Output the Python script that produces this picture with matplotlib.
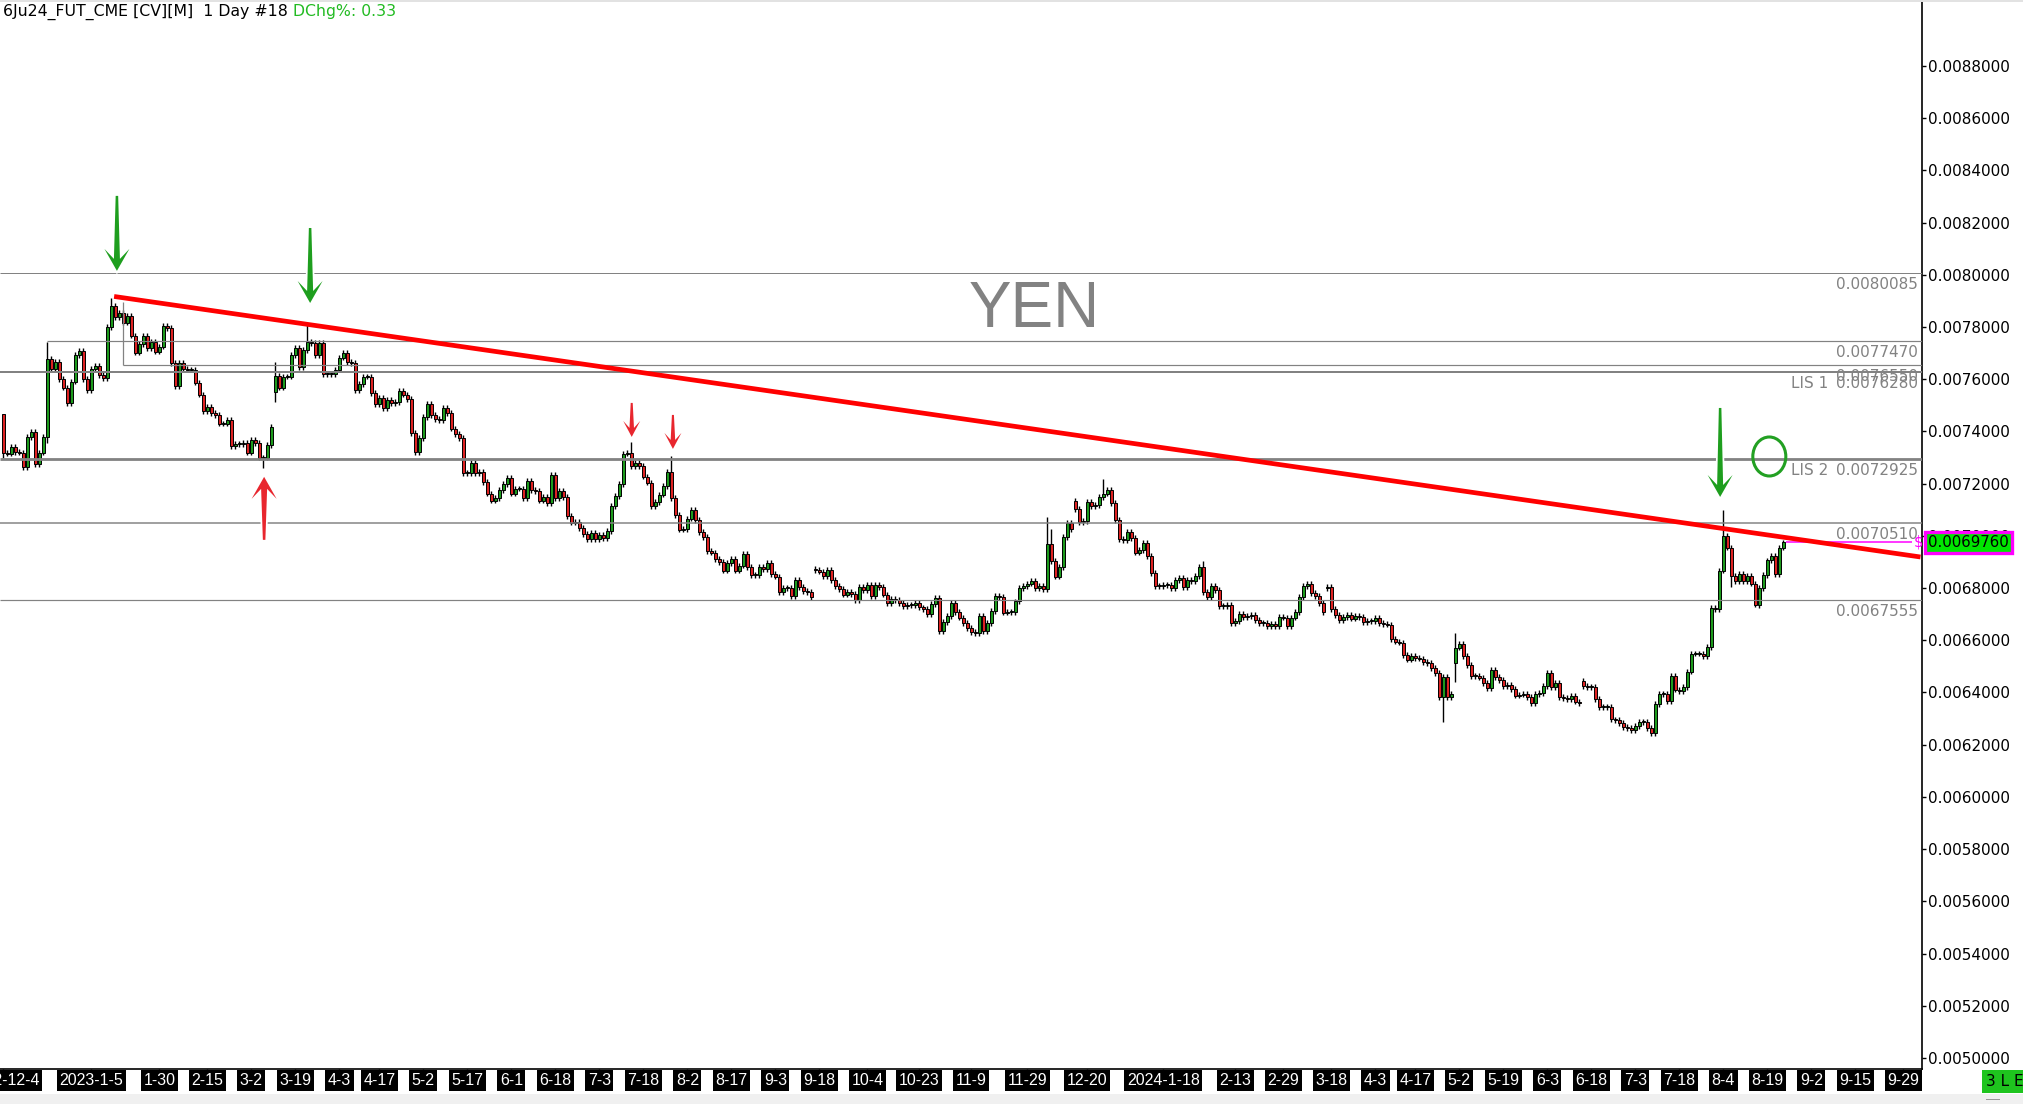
"""Daily candlestick chart of the yen future (6J) with levels and trend line."""

import matplotlib
matplotlib.use("Agg")
import matplotlib.patheffects as pe
import matplotlib.pyplot as plt
import matplotlib.transforms as mtransforms
import numpy as np
from matplotlib import font_manager as fm
from matplotlib.patches import Ellipse, Polygon, Rectangle
from matplotlib.ticker import FormatStrFormatter


W, H, DPI = 2023, 1104, 100
UNIT = 1e-6  # closes are typed in millionths

# daily closes, one entry per bar (x 1e-6)
closes_dec22_apr23 = [
    7318, 7314, 7340, 7321, 7318, 7264, 7379, 7398, 7275, 7318,
    7379, 7678, 7639, 7666, 7601, 7567, 7509, 7590, 7693, 7708,
    7601, 7559, 7639, 7651, 7616, 7605, 7800, 7881, 7838, 7854,
    7816, 7842, 7766, 7701, 7735, 7766, 7720, 7743, 7705, 7724,
    7804, 7796, 7662, 7574, 7662, 7639, 7636, 7636, 7586, 7540,
    7478, 7494, 7471, 7463, 7429, 7429, 7444, 7344, 7352, 7352,
    7356, 7318, 7367, 7356, 7299, 7299, 7348, 7417, 7613, 7567,
    7609, 7609, 7693, 7720, 7647, 7712, 7743, 7739, 7693, 7739,
    7620, 7620, 7620, 7636, 7682, 7701, 7666, 7662, 7559, 7582,
    7609, 7609, 7547, 7505, 7528, 7490, 7521, 7509, 7513, 7555,
]
closes_apr23_sep23 = [
    7540, 7524, 7394, 7321, 7375, 7455, 7505, 7463, 7448, 7444,
    7490, 7471, 7410, 7390, 7375, 7241, 7241, 7279, 7241, 7245,
    7206, 7161, 7134, 7145, 7176, 7199, 7222, 7161, 7180, 7180,
    7145, 7210, 7176, 7172, 7134, 7149, 7126, 7233, 7145, 7172,
    7149, 7076, 7050, 7053, 7030, 7007, 6988, 7011, 6988, 7003,
    6992, 7019, 7114, 7153, 7199, 7314, 7318, 7268, 7279, 7268,
    7226, 7203, 7114, 7130, 7157, 7191, 7245, 7145, 7080, 7023,
    7026, 7065, 7099, 7061, 7015, 6996, 6942, 6935, 6911, 6900,
    6866, 6896, 6911, 6866, 6885, 6931, 6881, 6850, 6850, 6881,
    6873, 6896, 6854, 6843, 6785, 6800, 6800, 6770, 6831, 6804,
]
closes_sep23_jan24 = [
    6789, 6785, 6766, 6869, 6862, 6846, 6869, 6831, 6808, 6796,
    6774, 6785, 6777, 6754, 6804, 6793, 6812, 6770, 6812, 6804,
    6774, 6743, 6758, 6754, 6743, 6731, 6735, 6735, 6743, 6727,
    6720, 6701, 6739, 6762, 6635, 6670, 6693, 6743, 6708, 6686,
    6666, 6647, 6632, 6628, 6693, 6635, 6666, 6712, 6770, 6766,
    6705, 6708, 6708, 6750, 6800, 6808, 6816, 6827, 6800, 6808,
    6796, 6969, 6904, 6843, 6881, 6996, 7050, 7026, 7103, 7053,
    7057, 7130, 7114, 7118, 7149, 7161, 7176, 7126, 7061, 6988,
    6984, 7015, 6992, 6935, 6946, 6973, 6923, 6858, 6808, 6808,
    6812, 6812, 6800, 6831, 6839, 6804, 6831, 6827, 6846, 6881,
]
closes_jan24_jun24 = [
    6785, 6766, 6808, 6793, 6731, 6731, 6735, 6666, 6674, 6701,
    6689, 6693, 6697, 6678, 6666, 6666, 6655, 6662, 6655, 6689,
    6686, 6655, 6686, 6708, 6766, 6808, 6816, 6781, 6770, 6743,
    6708, 6804, 6720, 6697, 6678, 6689, 6697, 6682, 6693, 6689,
    6670, 6674, 6674, 6686, 6666, 6662, 6659, 6605, 6594, 6590,
    6544, 6525, 6540, 6532, 6529, 6517, 6513, 6494, 6475, 6383,
    6459, 6383, 6394, 6571, 6586, 6540, 6505, 6463, 6463, 6456,
    6436, 6417, 6486, 6459, 6448, 6425, 6429, 6413, 6387, 6391,
    6394, 6383, 6360, 6394, 6398, 6425, 6475, 6421, 6436, 6383,
    6379, 6375, 6387, 6364, 6360, 6425, 6421, 6421, 6375, 6344,
]
closes_jun24_aug24 = [
    6344, 6344, 6298, 6295, 6283, 6268, 6264, 6256, 6272, 6287,
    6287, 6264, 6245, 6356, 6394, 6394, 6367, 6463, 6410, 6406,
    6421, 6479, 6548, 6548, 6548, 6540, 6574, 6724, 6720, 6866,
    7000, 6954, 6846, 6827, 6854, 6827, 6846, 6816, 6735, 6800,
    6850, 6907, 6923, 6854, 6954, 6976,
]
first_open = 7467
# bars that opened on a gap: bar -> open
gap_opens = {68: 7551, 203: 6873, 268: 7134, 331: 6800, 363: 6513, 395: 6444}
# long wicks: bar -> (high, low), None keeps the body edge
wick_extremes = {
    0: (7467, 7300), 11: (7743, 7356), 27: (7910, None), 65: (None, 7260),
    68: (7666, 7513), 76: (7808, None), 157: (7360, None), 167: (7305, None),
    261: (7072, None), 262: (7026, None), 275: (7218, None), 300: (6904, None),
    360: (None, 6287), 363: (6628, 6440), 430: (7100, None), 432: (None, 6804),
    438: (None, 6727), 439: (None, 6724),
}
last_price = 0.0069760

# horizontal levels
level_values = [0.0080085, 0.0077470, 0.0076550, 0.0076280, 0.0072925, 0.0070510, 0.0067555]
level_names = ["", "", "", "LIS 1", "LIS 2", "", ""]

# trend line through the 2023 and 2024 highs (bar, price)
trend_bars = [27.7, 479.3]
trend_prices = [0.007917, 0.006919]

# date labels under the bars they belong to
tick_bars = [0, 22, 39, 51, 62, 73, 84, 94, 105, 116, 127, 138, 149, 160, 171,
             182, 193, 204, 216, 229, 242, 256, 271, 290, 308, 320, 332, 343,
             353, 364, 375, 386, 397, 408, 419, 430, 441, 452, 463, 475]
tick_labels = ["2022-12-4", "2023-1-5", "1-30", "2-15", "3-2", "3-19", "4-3",
               "4-17", "5-2", "5-17", "6-1", "6-18", "7-3", "7-18", "8-2",
               "8-17", "9-3", "9-18", "10-4", "10-23", "11-9", "11-29",
               "12-20", "2024-1-18", "2-13", "2-29", "3-18", "4-3", "4-17",
               "5-2", "5-19", "6-3", "6-18", "7-3", "7-18", "8-4", "8-19",
               "9-2", "9-15", "9-29"]

# marker arrows: (bar, price at tip, pointing up?, colour)
arrow_marks = [
    (28.4, 0.008015, False, "green"),
    (76.7, 0.007892, False, "green"),
    (429.2, 0.007149, False, "green"),
    (65.2, 0.007226, True, "red"),
    (157.1, 0.007379, False, "red"),
    (167.4, 0.007333, False, "red"),
]

GREEN = "#1d9a1d"
RED = "#dd2222"
GRAY = "#828282"


def narrow_family():
    """Arial Narrow look-alike if present, else plain Liberation Sans."""
    try:
        fm.findfont(fm.FontProperties(family="Liberation Sans Narrow"),
                    fallback_to_default=False)
        return "Liberation Sans Narrow", True
    except ValueError:
        return "Liberation Sans", False


def build_ohlc():
    closes = np.array(closes_dec22_apr23 + closes_apr23_sep23 + closes_sep23_jan24
                      + closes_jan24_jun24 + closes_jun24_aug24, dtype=float)
    opens = np.concatenate([[first_open], closes[:-1]])
    for bar, value in gap_opens.items():
        opens[bar] = value
    highs = np.maximum(opens, closes) + 10
    lows = np.minimum(opens, closes) - 10
    for bar, (hi, lo) in wick_extremes.items():
        if hi is not None:
            highs[bar] = hi
        if lo is not None:
            lows[bar] = lo
    return opens * UNIT, highs * UNIT, lows * UNIT, closes * UNIT


def draw_arrow(ax, bar, price, up, colour):
    if colour == "green":
        length = 89 if bar > 400 else 75
        hw, hl, join, sb, st = 25, 22, 12, 6, 2.5
    elif up:
        length = 63
        hw, hl, join, sb, st = 25, 22, 12, 6, 2.5
    else:
        length = 34
        hw, hl, join, sb, st = 17, 16, 9, 4.5, 2
    face = "#1e9e1e" if colour == "green" else "#e8262e"
    tx, ty = ax.transData.transform((bar, price))
    sign = -1 if up else 1
    shape = [(0, 0), (hw / 2, hl), (sb / 2, join), (st / 2, length),
             (-st / 2, length), (-sb / 2, join), (-hw / 2, hl)]
    verts = [(tx + px, ty + sign * py) for px, py in shape]
    poly = Polygon(verts, closed=True, transform=mtransforms.IdentityTransform(),
                   facecolor=face, edgecolor="none", zorder=8)
    poly.set_path_effects([pe.Stroke(linewidth=2.5, foreground="white"), pe.Normal()])
    ax.add_patch(poly)


def main() -> None:
    opens, highs, lows, closes = build_ohlc()
    bars = np.arange(len(closes))
    narrow, is_narrow = narrow_family()

    fig = plt.figure(figsize=(W / DPI, H / DPI), dpi=DPI)
    fig.patch.set_facecolor("white")
    ax = fig.add_axes([0, (H - 1069) / H, 1922 / W, (1069 - 2) / H])
    ax.set_xlim(-0.83, 479.67)
    ax.set_ylim(0.0049577, 0.009045)

    for side in ("top", "left"):
        ax.spines[side].set_visible(False)
    for side in ("right", "bottom"):
        ax.spines[side].set_color("black")
        ax.spines[side].set_linewidth(1.2)

    # candles
    up = closes >= opens
    ax.vlines(bars, lows, highs, color="black", linewidth=1.0, zorder=2)
    body_low = np.minimum(opens, closes)
    body_h = np.maximum(np.abs(closes - opens), 3 * UNIT)
    ax.bar(bars, body_h, bottom=body_low, width=0.62,
           color=np.where(up, GREEN, RED), edgecolor="black", linewidth=0.7, zorder=3)

    # levels
    starts = [None, 10.9, 29.9, None, None, None, None]
    widths = [1.0, 1.2, 1.2, 2.0, 2.8, 1.5, 1.2]
    for value, name, start, lw in zip(level_values, level_names, starts, widths):
        x0 = -0.83 if start is None else start
        ax.hlines(value, x0, 479.67, color=GRAY, linewidth=lw * 0.72, zorder=4)
        ax.annotate(f"{value:.7f}", xy=(1, value), xycoords=ax.get_yaxis_transform(),
                    xytext=(-4, -4), textcoords="offset pixels", ha="right", va="top",
                    fontsize=11, color=GRAY, zorder=5)
        if name:
            ax.annotate(name, xy=(1, value), xycoords=ax.get_yaxis_transform(),
                        xytext=(-131, -4), textcoords="offset pixels", ha="left",
                        va="top", fontsize=11, color=GRAY, zorder=5)
    # small vertical edge of the 0.0076550 box
    ax.vlines(29.9, level_values[2], 0.007896, color=GRAY, linewidth=0.9, zorder=4)

    # trend line
    ax.plot(trend_bars, trend_prices, color="#ff0000", linewidth=3.4,
            solid_capstyle="butt", zorder=7)

    # current price
    ax.hlines(last_price, 445.7, 477.2, color="#ff00ff", linewidth=1.1, zorder=6)
    ax.text(477.5, last_price, "$", color="#ff00ff", fontsize=10.5,
            ha="left", va="center", zorder=6)
    ax.annotate(f"{last_price:.7f}", xy=(1, last_price), xycoords=ax.get_yaxis_transform(),
                xytext=(6, 0), textcoords="offset pixels", ha="left", va="center",
                fontsize=10.8, color="black", annotation_clip=False,
                bbox=dict(boxstyle="square,pad=0.2", fc="#00e600", ec="#ff00ff", lw=2.4))

    # circle near the break
    ax.add_patch(Ellipse((441.5, 0.007304), width=8.25, height=0.0001494,
                         fill=False, edgecolor="#22a022", linewidth=2.2, zorder=8))

    for bar, price, pointing_up, colour in arrow_marks:
        draw_arrow(ax, bar, price, pointing_up, colour)

    ax.text(0.538, 0.711, "YEN", transform=ax.transAxes,
            fontsize=51 if is_narrow else 46, family=narrow, color=GRAY,
            ha="center", va="center", zorder=1)

    # y axis on the right
    ax.yaxis.tick_right()
    ax.set_yticks(np.arange(0.0050, 0.00881, 0.0002))
    ax.yaxis.set_major_formatter(FormatStrFormatter("%.7f"))
    ax.tick_params(axis="y", direction="out", length=3, width=1, pad=1.5,
                   labelsize=11, colors="black")

    # x axis: black label boxes
    ax.set_xticks(tick_bars)
    ax.tick_params(axis="x", direction="out", length=2.2, width=1, labelbottom=False)
    for bar, label in zip(tick_bars, tick_labels):
        ax.annotate(label, xy=(bar, 0), xycoords=ax.get_xaxis_transform(),
                    xytext=(0, -4), textcoords="offset pixels", ha="center", va="top",
                    fontsize=13.5 if is_narrow else 11.5, family=narrow, color="white",
                    annotation_clip=False,
                    bbox=dict(boxstyle="square,pad=0.16", fc="black", ec="none"))

    # header line
    renderer = fig.canvas.get_renderer()
    head = fig.text(3 / W, 1 - 16 / H, "6Ju24_FUT_CME [CV][M]  1 Day #18 ",
                    fontsize=11.3, color="black", va="baseline")
    ext = head.get_window_extent(renderer=renderer)
    fig.text(ext.x1 / W, 1 - 16 / H, "DChg%: 0.33", fontsize=11.3,
             color="#22bb22", va="baseline")

    # frame details
    fig.patches.append(Rectangle((0, 0), 1, 10 / H, transform=fig.transFigure,
                                 facecolor="#f0f0f0", edgecolor="none"))
    fig.patches.append(Rectangle((0, 1 - 1.5 / H), 1, 1.5 / H, transform=fig.transFigure,
                                 facecolor="#e2e2e2", edgecolor="none"))
    fig.patches.append(Rectangle((1986 / W, 4 / H), 14 / W, 1.5 / H,
                                 transform=fig.transFigure, facecolor="#999999",
                                 edgecolor="none"))
    fig.text(1986 / W, 1 - 1081.5 / H, "3 L E", fontsize=11, color="black",
             va="center", ha="left",
             bbox=dict(boxstyle="square,pad=0.25", fc="#1ec41e", ec="none"))

    fig.savefig("out.png", dpi=DPI)
    plt.close(fig)


if __name__ == "__main__":
    main()
